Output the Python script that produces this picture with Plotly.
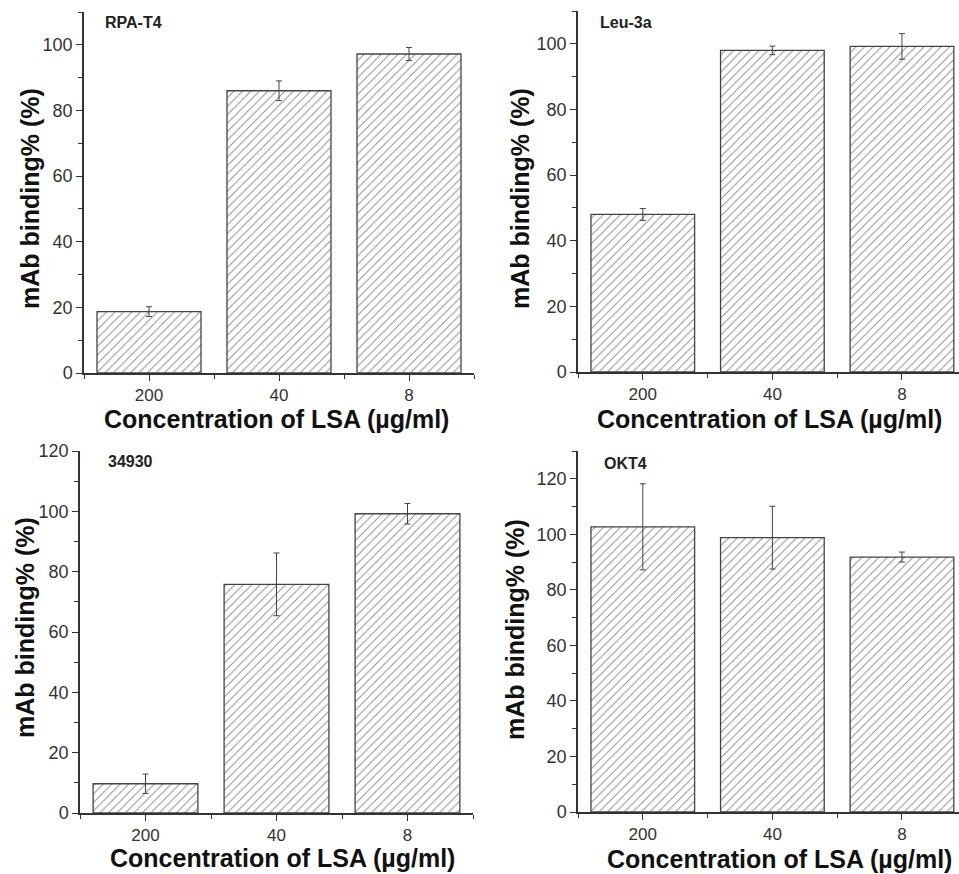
import plotly.graph_objects as go

categories = ["200", "40", "8"]
panel_names = ["RPA-T4", "Leu-3a", "34930", "OKT4"]
rpa_t4 = [18.7, 86.0, 97.2]
rpa_t4_err = [1.5, 3.0, 2.0]
leu_3a = [48.0, 98.0, 99.2]
leu_3a_err = [1.8, 1.3, 3.9]
ab_34930 = [9.7, 75.8, 99.2]
ab_34930_err = [3.2, 10.4, 3.4]
okt4 = [102.7, 98.8, 91.8]
okt4_err = [15.5, 11.3, 1.8]
y_max = [110, 110, 120, 130]

W, H = 959, 874
FONT = "Liberation Sans, Arial, sans-serif"

# pixel boxes: (left, right, top, bottom)
boxes = [(84, 474, 12, 373), (578, 959, 11, 372), (80, 473, 451, 813), (578, 959, 451, 812)]
xr_end = [2.5, 2.44, 2.5, 2.44]
series = [(rpa_t4, rpa_t4_err), (leu_3a, leu_3a_err), (ab_34930, ab_34930_err), (okt4, okt4_err)]
ytitle_pos = [(30, 199), (520, 199), (25, 628), (515, 630)]
xtitle_pos = [(276, 419), (769, 419), (282, 858), (779, 859)]
label_pos = [(103, 23), (598, 23), (106, 462), (602, 463)]

fig = go.Figure()
xs = [0, 1, 2]
for i, ((vals, errs), box) in enumerate(zip(series, boxes)):
    sfx = "" if i == 0 else str(i + 1)
    fig.add_trace(go.Bar(
        x=xs, y=vals, width=0.8,
        xaxis="x" + sfx, yaxis="y" + sfx,
        marker=dict(color="white", line=dict(color="#444", width=1.3),
                    pattern=dict(shape="/", fgcolor="#222", bgcolor="white", size=6, solidity=0.17)),
        error_y=dict(type="data", array=errs, visible=True, color="#444", thickness=1, width=3),
        showlegend=False, hoverinfo="skip",
    ))
    l, r, t, b = box
    xdom = [l / W, r / W]
    ydom = [(H - b) / H, (H - t) / H]
    fig.layout["xaxis" + sfx] = dict(
        domain=xdom, anchor="y" + sfx, range=[-0.5, xr_end[i]], automargin=False,
        tickmode="array", tickvals=xs, ticktext=categories,
        ticks="outside", ticklen=6, tickwidth=1.2, tickcolor="#333",
        minor=dict(tickmode="array", tickvals=[-0.5, 0.5, 1.5, 2.5], ticks="outside",
                   ticklen=4, tickwidth=1.2, tickcolor="#333"),
        showline=True, linecolor="#333", linewidth=1.5,
        showgrid=False, zeroline=False,
        tickfont=dict(family=FONT, size=17, color="#333"),
    )
    fig.layout["yaxis" + sfx] = dict(
        domain=ydom, anchor="x" + sfx, range=[0, y_max[i]], automargin=False,
        tickmode="linear", tick0=0, dtick=20,
        ticks="outside", ticklen=6, tickwidth=1.2, tickcolor="#333",
        minor=dict(dtick=10, ticks="outside", ticklen=4, tickwidth=1.2, tickcolor="#333"),
        showline=True, linecolor="#333", linewidth=1.5,
        showgrid=False, zeroline=False,
        tickfont=dict(family=FONT, size=18, color="#333"),
    )
    fig.add_annotation(text="mAb binding% (%)", x=ytitle_pos[i][0] / W, y=1 - ytitle_pos[i][1] / H,
                       xref="paper", yref="paper", showarrow=False, textangle=-90,
                       xanchor="center", yanchor="middle",
                       font=dict(family=FONT, size=25, color="#111", weight="bold"))
    fig.add_annotation(text="Concentration of LSA (µg/ml)", x=xtitle_pos[i][0] / W, y=1 - xtitle_pos[i][1] / H,
                       xref="paper", yref="paper", showarrow=False,
                       xanchor="center", yanchor="middle",
                       font=dict(family=FONT, size=25, color="#111", weight="bold"))
    fig.add_annotation(text=panel_names[i], x=label_pos[i][0] / W, y=1 - label_pos[i][1] / H,
                       xref="paper", yref="paper", showarrow=False,
                       xanchor="left", yanchor="middle",
                       font=dict(family=FONT, size=16, color="#222", weight="bold"))

fig.update_layout(width=W, height=H, margin=dict(l=0, r=0, t=0, b=0),
                  plot_bgcolor="white", paper_bgcolor="white", bargap=0.2)
fig.write_html("out.html", config={"displayModeBar": False},
               post_script="document.body.style.margin='0';document.body.style.overflow='hidden';")
